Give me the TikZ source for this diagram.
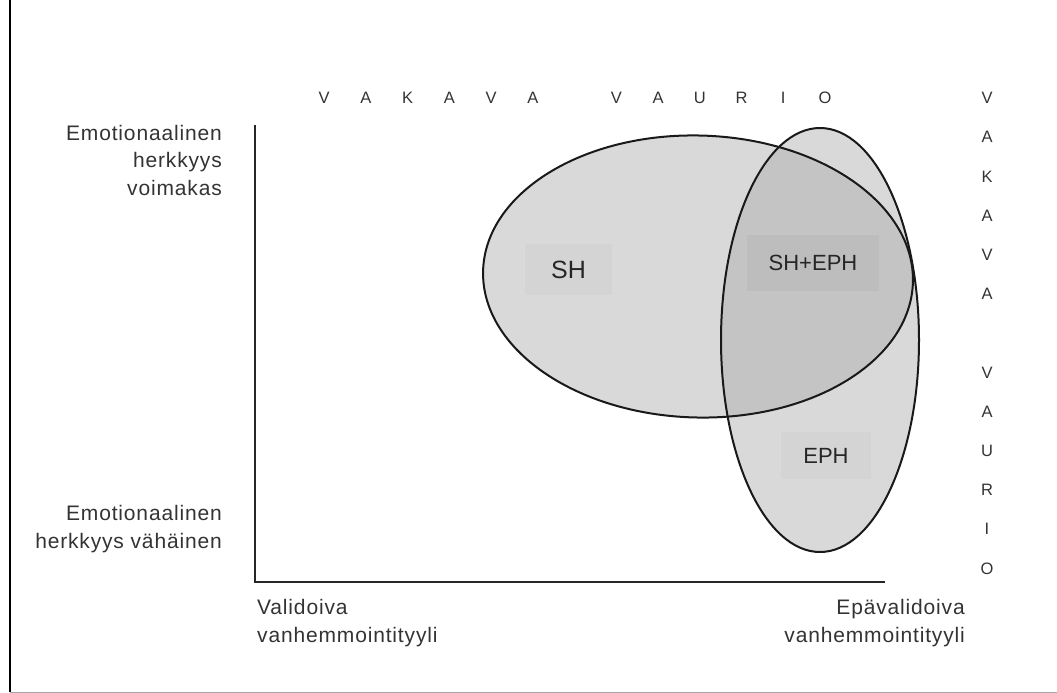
\documentclass[tikz,border=0pt]{standalone}
\usepackage{fontspec}
\setmainfont{Liberation Sans}
\begin{document}
\begin{tikzpicture}[x=1pt,y=-1pt,
  axis/.style={line width=2pt,draw=black!85},
  ring/.style={line width=2pt,draw=black!90},
  lbl/.style={font=\fontsize{21}{27.5}\selectfont\addfontfeature{LetterSpace=4},text=black!80,inner sep=0pt},
  spaced/.style={font=\fontsize{16.5}{16.5}\selectfont,text=black!80,inner sep=0pt},
  tag/.style={font=\fontsize{22}{22}\selectfont,text=black!85,inner sep=0pt,minimum height=50pt}]
\useasboundingbox (0,0) rectangle (1057,693);

% page frame: left rule and light bottom rule
\draw[line width=2pt,black] (10,0) -- (10,692);
\draw[line width=1pt,black!35] (10,692) -- (1057,692);

% ellipse fills
\fill[black!15,shift={(698,276.5)},rotate=-1.5] (0,0) ellipse [x radius=215,y radius=141];
\fill[black!15] (820,340) ellipse [x radius=99,y radius=212];
\begin{scope}
  \clip[shift={(698,276.5)},rotate=-1.5] (0,0) ellipse [x radius=215,y radius=141];
  \fill[black!23] (820,340) ellipse [x radius=99,y radius=212];
\end{scope}

% label boxes
\fill[black!17] (525,244) rectangle (612,295);
\fill[black!26] (747,235) rectangle (879,291);
\fill[black!17] (781,432) rectangle (871,479);

% ellipse outlines
\draw[ring,shift={(698,276.5)},rotate=-1.5] (0,0) ellipse [x radius=215,y radius=141];
\draw[ring] (820,340) ellipse [x radius=99,y radius=212];

% axes
\coordinate (ytop) at (255,125);
\coordinate (origin) at (255,582);
\coordinate (xend) at (885,582);
\draw[axis] (ytop) -- (origin) -- (xend);

% region labels
\node[tag,font=\fontsize{25}{25}\selectfont] (sh) at (568.5,270) {SH};
\node[tag] (sheph) at (813,263) {SH+EPH};
\node[tag] (eph) at (826,455.5) {EPH};

% axis labels
\node[lbl,anchor=east,align=right] (high) at (222,160) {Emotionaalinen\\herkkyys\\voimakas};
\node[lbl,anchor=east,align=right] (low) at (222,529) {Emotionaalinen\\herkkyys vähäinen};
\node[lbl,anchor=west,align=left] (valid) at (257,623) {Validoiva\\vanhemmointityyli};
\node[lbl,anchor=east,align=right] (invalid) at (965,623) {Epävalidoiva\\vanhemmointityyli};

% spaced headings
\foreach \c/\p [count=\i] in {V/0,A/1,K/2,A/3,V/4,A/5,V/7,A/8,U/9,R/10,I/11,O/12}
  \node[spaced] (top\i) at ({324+41.75*\p},98) {\c};
\foreach \c/\p [count=\i] in {V/0,A/1,K/2,A/3,V/4,A/5,V/7,A/8,U/9,R/10,I/11,O/12}
  \node[spaced] (side\i) at (987,{98+39.2*\p}) {\c};
\end{tikzpicture}
\end{document}
